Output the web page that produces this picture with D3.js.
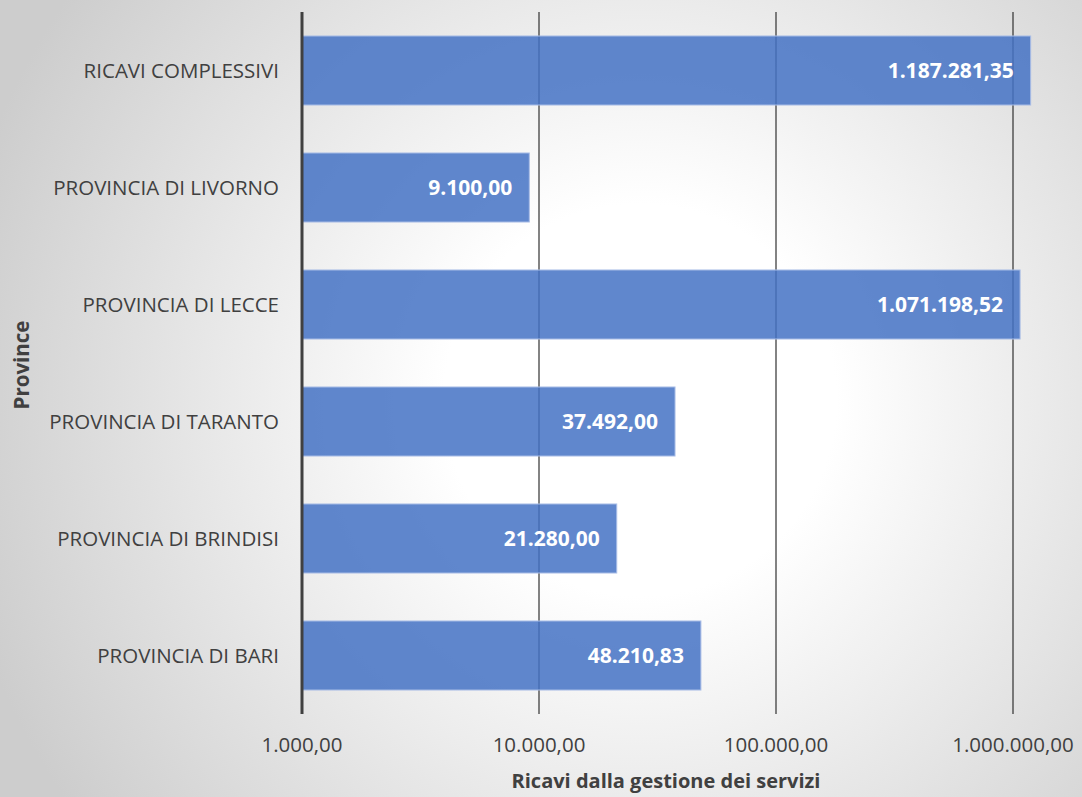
<!DOCTYPE html>
<html>
<head>
<meta charset="utf-8">
<script src="https://cdn.jsdelivr.net/npm/d3@7"></script>
<style>
  html, body { margin: 0; padding: 0; }
  svg { display: block; font-family: "Open Sans", "Noto Sans", sans-serif; }
</style>
</head>
<body>
<svg id="chart" width="1082" height="797"></svg>
<script>
// Chart data
const categories = ["RICAVI COMPLESSIVI", "PROVINCIA DI LIVORNO", "PROVINCIA DI LECCE",
    "PROVINCIA DI TARANTO", "PROVINCIA DI BRINDISI", "PROVINCIA DI BARI"];
const values = [1187281.35, 9100.00, 1071198.52, 37492.00, 21280.00, 48210.83];
const tickValues = [1000, 10000, 100000, 1000000];
const tickLabels = ["1.000,00", "10.000,00", "100.000,00", "1.000.000,00"];

const width = 1082, height = 797;
const margin = {top: 12, left: 302, bottom: 84};

const svg = d3.select('#chart');
const defs = svg.append('defs');

// background radial gradient
const bg = defs.append('radialGradient')
    .attr('id', 'bg')
    .attr('gradientUnits', 'userSpaceOnUse')
    .attr('cx', 640).attr('cy', 400).attr('r', 700);
bg.append('stop').attr('offset', '0%').attr('stop-color', '#ffffff');
bg.append('stop').attr('offset', '28%').attr('stop-color', '#ffffff');
bg.append('stop').attr('offset', '100%').attr('stop-color', '#cdcdcd');

svg.append('rect')
    .attr('width', width).attr('height', height)
    .attr('fill', 'url(#bg)');

const x = d3.scaleLog()
    .domain([1000, 1000000])
    .range([margin.left, 1013]);

const y = d3.scaleBand()
    .domain(categories)
    .range([margin.top, height - margin.bottom + 1])
    .paddingInner(0.41)
    .paddingOuter(0.205);

const fmt = v => {
    const parts = v.toFixed(2).split('.');
    return parts[0].replace(/\B(?=(\d{3})+(?!\d))/g, '.') + ',' + parts[1];
};

// gridlines
const plotBottom = height - margin.bottom + 1;
svg.append('g')
    .selectAll('line')
    .data(tickValues.slice(1))
    .join('line')
    .attr('x1', d => x(d)).attr('x2', d => x(d))
    .attr('y1', margin.top).attr('y2', plotBottom)
    .attr('stroke', '#303030')
    .attr('stroke-opacity', 0.75)
    .attr('stroke-width', 1.6);

// bars
svg.append('g')
    .selectAll('rect')
    .data(categories)
    .join('rect')
    .attr('x', x(1000))
    .attr('y', d => y(d))
    .attr('width', (d, i) => x(values[i]) - x(1000))
    .attr('height', y.bandwidth())
    .attr('fill', '#4472C4')
    .attr('fill-opacity', 0.85)
    .attr('stroke', '#a9bde6')
    .attr('stroke-width', 1);

// value labels
svg.append('g')
    .selectAll('text')
    .data(categories)
    .join('text')
    .attr('x', (d, i) => x(values[i]) - 17)
    .attr('y', d => y(d) + y.bandwidth() / 2)
    .attr('dy', '0.35em')
    .attr('text-anchor', 'end')
    .attr('fill', '#ffffff')
    .attr('font-weight', 'bold')
    .attr('font-size', 21)
    .text((d, i) => fmt(values[i]));

// y axis line
svg.append('line')
    .attr('x1', x(1000)).attr('x2', x(1000))
    .attr('y1', margin.top).attr('y2', plotBottom)
    .attr('stroke', '#404040')
    .attr('stroke-width', 3);

// category labels
svg.append('g')
    .selectAll('text')
    .data(categories)
    .join('text')
    .attr('x', 279)
    .attr('y', d => y(d) + y.bandwidth() / 2)
    .attr('dy', '0.35em')
    .attr('text-anchor', 'end')
    .attr('fill', '#404040')
    .attr('font-size', 20.5)
    .text(d => d);

// x tick labels
svg.append('g')
    .selectAll('text')
    .data(tickValues)
    .join('text')
    .attr('x', d => x(d))
    .attr('y', 745)
    .attr('dy', '0.35em')
    .attr('text-anchor', 'middle')
    .attr('fill', '#404040')
    .attr('font-size', 20.5)
    .text((d, i) => tickLabels[i]);

// axis titles
svg.append('text')
    .attr('x', 666).attr('y', 781)
    .attr('dy', '0.35em')
    .attr('text-anchor', 'middle')
    .attr('fill', '#404040')
    .attr('font-weight', 'bold')
    .attr('font-size', 20)
    .text('Ricavi dalla gestione dei servizi');

svg.append('text')
    .attr('transform', 'translate(22,365) rotate(-90)')
    .attr('dy', '0.35em')
    .attr('text-anchor', 'middle')
    .attr('fill', '#404040')
    .attr('font-weight', 'bold')
    .attr('font-size', 20.5)
    .text('Province');
</script>
</body>
</html>
